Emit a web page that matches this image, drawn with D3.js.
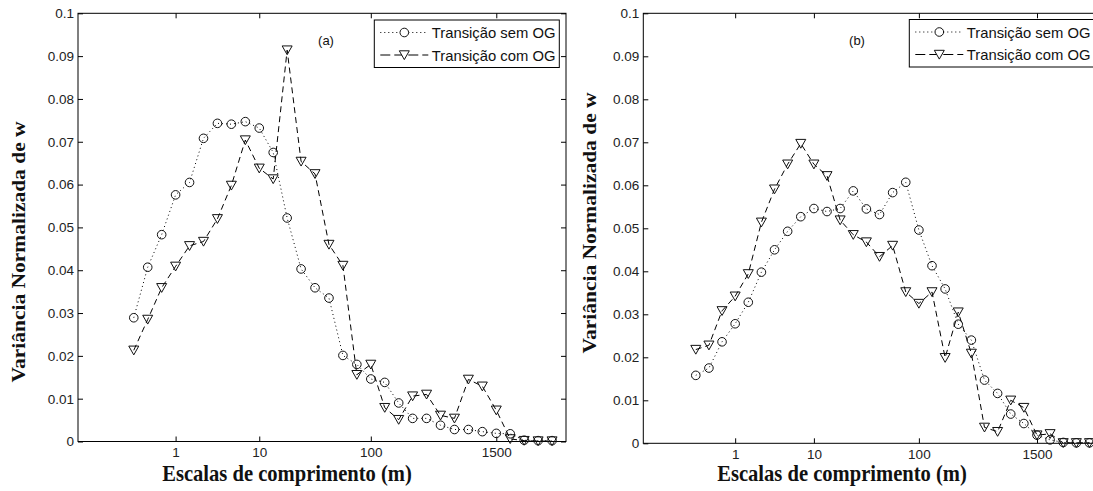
<!DOCTYPE html>
<html>
<head>
<meta charset="utf-8">
<script src="https://cdn.jsdelivr.net/npm/d3@7"></script>
<style>
  body { margin: 0; background: #fff; }
  .tick text { font-family: "Liberation Sans", Arial, sans-serif; font-size: 13.5px; fill: #222; }
  .tick line { stroke: #000; }
  .lbl { font-family: "Liberation Serif", "Times New Roman", serif; font-weight: bold; fill: #111; }
  .leg { font-family: "Liberation Sans", Arial, sans-serif; font-size: 14.8px; fill: #111; }
</style>
</head>
<body>
<svg id="fig" width="1093" height="491"></svg>
<script>
// escalas (posição do ponto 0..30) e rótulos do eixo x
var xTickIdx = [3, 9, 17, 26];
var xTickLabels = ["1", "10", "100", "1500"];
var yTicks = [0, 0.01, 0.02, 0.03, 0.04, 0.05, 0.06, 0.07, 0.08, 0.09, 0.1];
var seriesNames = ["Transição sem OG", "Transição com OG"];

// (a)
var semA = [0.0289, 0.0407, 0.0483, 0.0576, 0.0605, 0.0708, 0.0743, 0.0741, 0.0747, 0.0732, 0.0675,
  0.0522, 0.0403, 0.0359, 0.0335, 0.0201, 0.0180, 0.0146, 0.0138, 0.0090, 0.0054, 0.0054, 0.0038,
  0.0028, 0.0028, 0.0023, 0.0019, 0.0018, 0.0003, 0.0002, 0.0002];
var comA = [0.0213, 0.0285, 0.0359, 0.0409, 0.0457, 0.0467, 0.0520, 0.0598, 0.0704, 0.0638, 0.0613,
  0.0914, 0.0654, 0.0625, 0.0460, 0.0411, 0.0156, 0.0180, 0.0079, 0.0051, 0.0106, 0.0110, 0.0061,
  0.0054, 0.0145, 0.0129, 0.0073, 0.0006, 0.0002, 0.0001, 0.0001];
// (b)
var semB = [0.0158, 0.0175, 0.0236, 0.0278, 0.0328, 0.0398, 0.0450, 0.0493, 0.0527, 0.0546, 0.0539,
  0.0546, 0.0587, 0.0545, 0.0532, 0.0583, 0.0607, 0.0496, 0.0413, 0.0359, 0.0277, 0.0240, 0.0147,
  0.0116, 0.0068, 0.0046, 0.0019, 0.0008, 0.0002, 0.0001, 0.0001];
var comB = [0.0218, 0.0228, 0.0308, 0.0342, 0.0394, 0.0514, 0.0591, 0.0649, 0.0697, 0.0649, 0.0622,
  0.0519, 0.0485, 0.0468, 0.0434, 0.0460, 0.0352, 0.0325, 0.0352, 0.0199, 0.0305, 0.0209, 0.0037,
  0.0027, 0.0100, 0.0083, 0.0019, 0.0022, 0.0001, 0.0001, 0.0001];

var svg = d3.select("#fig");

var triPath = "M-5,-4.2L5,-4.2L0,4.6Z";

const drawPanel = (p) => {
  var x = d3.scaleLinear().domain([-4, 31]).range([p.left, p.right]);
  var y = d3.scaleLinear().domain([0, 0.1]).range([p.bottom, p.top]);
  var g = svg.append("g");

  // box
  g.append("rect")
    .attr("x", p.left).attr("y", p.top)
    .attr("width", p.right - p.left).attr("height", p.bottom - p.top)
    .attr("fill", "none").attr("stroke", "#000").attr("stroke-width", 1);

  ///////////////////////
  // Axis (ticks para dentro, nos 4 lados)
  var fmtX = (d) => xTickLabels[xTickIdx.indexOf(d)];
  g.append("g").attr("transform", "translate(0," + p.bottom + ")")
    .call(d3.axisBottom(x).tickValues(xTickIdx).tickFormat(fmtX).tickSizeInner(-5).tickSizeOuter(0).tickPadding(6))
    .call(a => a.select(".domain").remove());
  g.append("g").attr("transform", "translate(0," + p.top + ")")
    .call(d3.axisTop(x).tickValues(xTickIdx).tickFormat("").tickSizeInner(-5).tickSizeOuter(0))
    .call(a => a.select(".domain").remove());
  g.append("g").attr("transform", "translate(" + p.left + ",0)")
    .call(d3.axisLeft(y).tickValues(yTicks).tickFormat(d => d === 0 ? "0" : d3.format("")(+d.toFixed(2))).tickSizeInner(-5).tickSizeOuter(0).tickPadding(4))
    .call(a => a.select(".domain").remove());
  g.append("g").attr("transform", "translate(" + p.right + ",0)")
    .call(d3.axisRight(y).tickValues(yTicks).tickFormat("").tickSizeInner(-5).tickSizeOuter(0))
    .call(a => a.select(".domain").remove());
  g.selectAll(".tick line").attr("stroke", "#000");

  // labels (a figura original está levemente comprimida na horizontal)
  g.append("text").attr("class", "lbl")
    .attr("text-anchor", "middle")
    .attr("transform", "translate(" + p.xlabX + ",480.5) scale(0.895,1)")
    .style("font-size", "23px")
    .text("Escalas de comprimento (m)");
  g.append("text").attr("class", "lbl")
    .attr("text-anchor", "middle")
    .attr("transform", "translate(" + p.ylabX + "," + p.ylabY + ") scale(0.9,1) rotate(-90)")
    .style("font-size", "21.5px")
    .text("Variância Normalizada de w");
  g.append("text").attr("class", "leg")
    .attr("text-anchor", "middle")
    .attr("x", p.tagX).attr("y", 45)
    .style("font-size", "13px")
    .text(p.tag);

  ////////////////////////
  // series
  var line = d3.line().x((d, i) => x(i)).y(d => y(d));
  g.append("path").datum(p.sem)
    .attr("d", line).attr("fill", "none").attr("stroke", "#000")
    .attr("stroke-width", 1).attr("stroke-dasharray", "1,3");
  g.append("path").datum(p.com)
    .attr("d", line).attr("fill", "none").attr("stroke", "#000")
    .attr("stroke-width", 1).attr("stroke-dasharray", "6,4");

  g.selectAll(".c").data(p.sem).enter().append("circle")
    .attr("cx", (d, i) => x(i)).attr("cy", d => y(d))
    .attr("r", 4.3).attr("fill", "none").attr("stroke", "#111");
  g.selectAll(".t").data(p.com).enter().append("path")
    .attr("d", triPath)
    .attr("transform", (d, i) => "translate(" + x(i) + "," + y(d) + ")")
    .attr("fill", "none").attr("stroke", "#111");

  ///////////////////////
  // legend
  var lg = g.append("g").attr("transform", "translate(" + p.legX + "," + p.legY + ")");
  lg.append("rect").attr("x", 0).attr("y", 0).attr("width", 185).attr("height", 47.5)
    .attr("fill", "#fff").attr("stroke", "#000");
  [0, 1].forEach(k => {
    var ry = k === 0 ? 12.5 : 35;
    lg.append("line").attr("x1", 6).attr("x2", 54).attr("y1", ry).attr("y2", ry)
      .attr("stroke", "#000").attr("stroke-dasharray", k === 0 ? "1,3" : "10,4");
    if (k === 0) {
      lg.append("circle").attr("cx", 30).attr("cy", ry).attr("r", 4.3)
        .attr("fill", "#fff").attr("stroke", "#111");
    } else {
      lg.append("path").attr("d", triPath).attr("transform", "translate(30," + ry + ")")
        .attr("fill", "#fff").attr("stroke", "#111");
    }
    lg.append("text").attr("class", "leg")
      .attr("x", 57.5).attr("y", ry + 5.5)
      .text(seriesNames[k]);
  });
};

drawPanel({left: 78, right: 566, top: 13.3, bottom: 441.5, sem: semA, com: comA,
  tag: "(a)", tagX: 326, legX: 374.3, legY: 20, xlabX: 287, ylabX: 25, ylabY: 252});
drawPanel({left: 643.3, right: 1102.6, top: 13.3, bottom: 443.3, sem: semB, com: comB,
  tag: "(b)", tagX: 857, legX: 909.3, legY: 19.5, xlabX: 842, ylabX: 596, ylabY: 223});
</script>
</body>
</html>
